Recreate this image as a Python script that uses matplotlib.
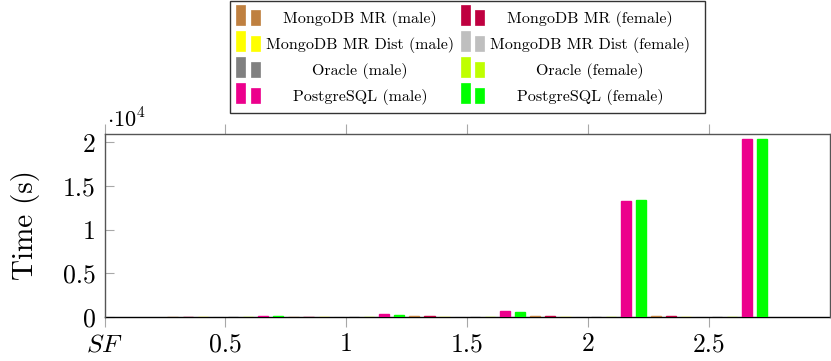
import matplotlib
matplotlib.use("Agg")
import matplotlib.pyplot as plt
from matplotlib.patches import Rectangle
from matplotlib.ticker import FixedLocator, FuncFormatter
import numpy as np

plt.rcParams['font.family'] = ['cmr10', 'DejaVu Serif']
plt.rcParams['mathtext.fontset'] = 'cm'
plt.rcParams['axes.formatter.use_mathtext'] = True

# ---- data ----
sf = [0.5, 1.0, 1.5, 2.0, 2.5]
series_labels = [
    "MongoDB MR (male)", "MongoDB MR (female)",
    "MongoDB MR Dist (male)", "MongoDB MR Dist (female)",
    "Oracle (male)", "Oracle (female)",
    "PostgreSQL (male)", "PostgreSQL (female)",
]
mongo_mr_male = [20, 40, 100, 110, 110]
mongo_mr_female = [20, 40, 100, 150, 150]
mongo_dist_male = [5, 10, 15, 20, 25]
mongo_dist_female = [5, 10, 15, 20, 25]
oracle_male = [2, 3, 5, 8, 10]
oracle_female = [2, 3, 5, 8, 10]
pg_male = [150, 310, 690, 13300, 20350]
pg_female = [150, 280, 570, 13400, 20400]
series_values = [mongo_mr_male, mongo_mr_female, mongo_dist_male, mongo_dist_female,
                 oracle_male, oracle_female, pg_male, pg_female]
colors = ["#BF8040", "#BF0040", "#FFFF00", "#BFBFBF",
          "#808080", "#BFFF00", "#EC008C", "#00FF00"]
xtick_vals = [0, 0.5, 1, 1.5, 2, 2.5]
xtick_labels = ["$SF$", "0.5", "1", "1.5", "2", "2.5"]
ytick_vals = [0, 5000, 10000, 15000, 20000]

W, H = 831, 361
fig = plt.figure(figsize=(W / 100, H / 100), dpi=100)

def fx(p):
    return p / W

def fy(p):
    return 1 - p / H

ax_l, ax_r, ax_t, ax_b = 104.5, 830.0, 133.7, 317.0
ax = fig.add_axes([fx(ax_l), fy(ax_b), fx(ax_r - ax_l), (ax_b - ax_t) / H])

spacing = 0.0625
bw = 0.042
n = len(series_values)
for i, (vals, col) in enumerate(zip(series_values, colors)):
    off = (i - (n - 1) / 2) * spacing
    ax.bar(np.array(sf) + off, vals, width=bw, color=col, edgecolor=col,
           linewidth=1.0, zorder=3)

ax.set_xlim(0, 3)
ax.set_ylim(0, 21000)
ax.xaxis.set_major_locator(FixedLocator(xtick_vals))
ax.set_xticklabels(xtick_labels)
ax.yaxis.set_major_locator(FixedLocator(ytick_vals))
ax.yaxis.set_major_formatter(FuncFormatter(lambda v, p: ("%g" % (v / 1e4))))

ax.tick_params(axis='x', direction='out', top=True, bottom=True, length=7.5,
               width=0.8, color='#a8a8a8', labelsize=18.5, pad=3.5)
ax.tick_params(axis='y', direction='in', left=True, right=False, length=6.5,
               width=0.8, color='#a8a8a8', labelsize=18.5, pad=6.5)

for s in ['left', 'top', 'right']:
    ax.spines[s].set_color('#555555')
    ax.spines[s].set_linewidth(1.0)
ax.spines['bottom'].set_color('black')
ax.spines['bottom'].set_linewidth(1.0)
ax.spines['bottom'].set_zorder(2)

ax.set_ylabel("Time (s)", fontsize=21, labelpad=16)
fig.text(fx(107), fy(127), r"$\cdot 10^4$", fontsize=16, ha='left', va='baseline')

# ---- legend (drawn manually, pgfplots style) ----
fig.add_artist(Rectangle((fx(229.5), fy(113)), fx(704.5 - 229.5), (113 - 1) / H,
                         transform=fig.transFigure, facecolor='white',
                         edgecolor='#333333', linewidth=1.0))
row_y = [19, 45, 71, 97]
col_marker_x = [(236, 251), (461, 475)]
col_text_x = [360, 590]
mw = 9
for i, (lab, col) in enumerate(zip(series_labels, colors)):
    c = i % 2
    r = i // 2
    yc = row_y[r]
    m1, m2 = col_marker_x[c]
    fig.add_artist(Rectangle((fx(m1), fy(yc + 6)), fx(mw), 20 / H,
                             transform=fig.transFigure, facecolor=col,
                             edgecolor=col, linewidth=0.5))
    fig.add_artist(Rectangle((fx(m2), fy(yc + 6)), fx(mw), 15 / H,
                             transform=fig.transFigure, facecolor=col,
                             edgecolor=col, linewidth=0.5))
    fig.text(fx(col_text_x[c]), fy(yc), lab, fontsize=11.5, ha='center', va='center')

fig.savefig("out.png", dpi=100)
